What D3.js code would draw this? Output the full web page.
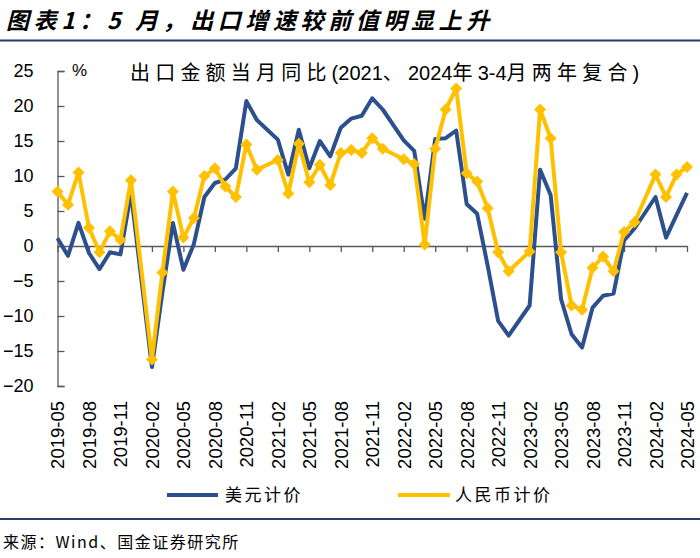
<!DOCTYPE html>
<html><head><meta charset="utf-8">
<script src="https://cdn.jsdelivr.net/npm/d3@7"></script>
<style>
html,body{margin:0;padding:0;background:#fff;}
svg{display:block;}
</style></head>
<body>
<svg id="c" width="700" height="558"></svg>
<script>
// ---- data ----
const months = ["2019-05","2019-06","2019-07","2019-08","2019-09","2019-10","2019-11","2019-12",
"2020-02","2020-03","2020-04","2020-05","2020-06","2020-07","2020-08","2020-09","2020-10","2020-11","2020-12",
"2021-02","2021-03","2021-04","2021-05","2021-06","2021-07","2021-08","2021-09","2021-10","2021-11","2021-12",
"2022-02","2022-03","2022-04","2022-05","2022-06","2022-07","2022-08","2022-09","2022-10","2022-11","2022-12",
"2023-02","2023-03","2023-04","2023-05","2023-06","2023-07","2023-08","2023-09","2023-10","2023-11","2023-12",
"2024-02","2024-03","2024-04","2024-05"];
const usd = [1.1,-1.4,3.3,-1.0,-3.3,-0.9,-1.2,7.6,
-17.3,-6.6,3.3,-3.4,0.3,7.0,9.0,9.5,11.1,20.7,18.0,
15.2,10.2,16.6,11.1,15.0,12.8,16.9,18.2,18.6,21.1,19.5,
15.1,13.6,3.9,15.3,15.4,16.5,6.0,4.6,-2.8,-10.7,-12.8,
-8.5,10.9,7.3,-7.6,-12.6,-14.5,-8.8,-7.1,-6.8,0.8,2.5,
7.0,1.2,4.4,7.6];
const cny = [7.8,5.9,10.5,2.6,-0.9,2.1,0.9,9.4,
-16.2,-3.8,7.8,1.2,4.0,10.0,11.1,8.5,7.0,14.5,10.9,
12.3,7.5,14.6,9.1,11.6,8.7,13.3,13.7,13.3,15.4,13.9,
12.4,11.7,0.2,13.9,19.5,22.5,10.4,9.2,5.4,-0.9,-3.6,
-0.8,19.5,15.4,-0.9,-8.5,-9.1,-3.1,-1.5,-3.6,2.0,3.4,
10.2,7.0,10.2,11.3];
const tickLabels = ["2019-05","2019-08","2019-11","2020-02","2020-05","2020-08","2020-11",
"2021-02","2021-05","2021-08","2021-11","2022-02","2022-05","2022-08","2022-11",
"2023-02","2023-05","2023-08","2023-11","2024-02","2024-05"];
const yTicks = [-20,-15,-10,-5,0,5,10,15,20,25];
const seriesNames = ["美元计价","人民币计价"];
const titleText = "图表1：5 月，出口增速较前值明显上升";
const subtitleParts = [["出口金额当月同比",1],["(2021",0],["、",1],["2024",0],["年",1],["3-4",0],["月两年复合",1],[")",0]];
const sourceText = "来源：Wind、国金证券研究所";

// ---- helpers ----
const mIndex = s => { const [y,m] = s.split("-").map(Number); return (y-2019)*12 + (m-5); };
const BLUE = "#2C4F8E", GOLD = "#FFC000", AXIS = "#595959";
const LAT = "'Liberation Sans', Arial, 'Noto Sans CJK SC', sans-serif";
const CJK = "'Noto Sans CJK SC', 'Liberation Sans', sans-serif";

const svg = d3.select("#c");
const x = d3.scaleLinear().domain([0,60]).range([57.5,687]);
const y = d3.scaleLinear().domain([-20,25]).range([386,71]);

// title
svg.append("text").attr("x",6).attr("y",29)
  .attr("font-family",CJK).attr("font-size",23).attr("font-weight","bold")
  .attr("font-style","italic").attr("letter-spacing",4.6).attr("fill","#000")
  .text(titleText);
svg.append("line").attr("x1",0).attr("x2",700).attr("y1",40.5).attr("y2",40.5)
  .attr("stroke","#1F3F6E").attr("stroke-width",2);
svg.append("line").attr("x1",0).attr("x2",700).attr("y1",519).attr("y2",519)
  .attr("stroke","#1F3F6E").attr("stroke-width",2);

// source
svg.append("text").attr("x",3).attr("y",548)
  .attr("font-family",CJK).attr("font-size",16).attr("letter-spacing",1.5).attr("fill","#000")
  .text(sourceText);

// y axis
const yAxis = d3.axisLeft(y).tickValues(yTicks).tickSize(-7).tickPadding(24).tickFormat(d3.format("d"));
const gy = svg.append("g").attr("transform",`translate(${x(0)},0)`).call(yAxis);
gy.select(".domain").attr("stroke",AXIS).attr("stroke-width",1.3);
gy.selectAll(".tick line").attr("stroke",AXIS).attr("stroke-width",1.3);
gy.selectAll(".tick text").attr("font-family",LAT).attr("font-size",18).attr("fill","#000");

// x axis at zero
const xAxis = d3.axisBottom(x).tickValues(tickLabels.map(mIndex)).tickSize(6).tickSizeOuter(0).tickFormat("");
const gx = svg.append("g").attr("transform",`translate(0,${y(0)})`).call(xAxis);
gx.select(".domain").attr("stroke",AXIS).attr("stroke-width",1.3);
gx.selectAll(".tick line").attr("stroke",AXIS).attr("stroke-width",1.3);

// x labels at bottom
const xLab = d3.axisBottom(x).tickValues(tickLabels.map(mIndex)).tickSize(0).tickFormat((d,i)=>tickLabels[i]);
const gl = svg.append("g").attr("transform",`translate(0,401)`).call(xLab);
gl.select(".domain").remove();
gl.selectAll(".tick text").attr("font-family",LAT).attr("font-size",18.5).attr("fill","#000")
  .attr("text-anchor","end").attr("transform","rotate(-90)").attr("x",0).attr("y",0).attr("dy","0.35em");

// % and subtitle
svg.append("text").attr("x",72).attr("y",76).attr("font-family",LAT).attr("font-size",17).text("%");
const st = svg.append("text").attr("x",130).attr("y",80).attr("font-size",20).attr("fill","#000");
subtitleParts.forEach(([t,c]) => {
  st.append("tspan").attr("font-family", c ? CJK : LAT).attr("letter-spacing", c ? 5.2 : 0).text(t);
});

// lines
const pts = months.map((m,i)=>({i:mIndex(m), u:usd[i], c:cny[i]}));
const lineU = d3.line().x(d=>x(d.i)).y(d=>y(d.u));
const lineC = d3.line().x(d=>x(d.i)).y(d=>y(d.c));
svg.append("path").datum(pts).attr("d",lineU).attr("fill","none").attr("stroke",BLUE)
  .attr("stroke-width",4).attr("stroke-linejoin","round");
svg.append("path").datum(pts).attr("d",lineC).attr("fill","none").attr("stroke",GOLD)
  .attr("stroke-width",4).attr("stroke-linejoin","round");

const diamond = { draw(ctx, size){ const r = Math.sqrt(size)/2*1.0; ctx.moveTo(0,-r); ctx.lineTo(r,0); ctx.lineTo(0,r); ctx.lineTo(-r,0); ctx.closePath(); } };
const sym = d3.symbol().type(diamond).size(144);
svg.append("g").selectAll("path").data(pts).join("path")
  .attr("d",sym).attr("transform",d=>`translate(${x(d.i)},${y(d.c)})`).attr("fill",GOLD);

// legend
const lg = svg.append("g");
lg.append("line").attr("x1",167).attr("x2",218).attr("y1",495).attr("y2",495).attr("stroke",BLUE).attr("stroke-width",4);
lg.append("text").attr("x",225).attr("y",501).attr("font-family",CJK).attr("font-size",17).attr("letter-spacing",2.5).text(seriesNames[0]);
lg.append("line").attr("x1",398).attr("x2",450).attr("y1",495).attr("y2",495).attr("stroke",GOLD).attr("stroke-width",4);
lg.append("path").attr("d",d3.symbol().type(diamond).size(25)).attr("transform","translate(424,495)").attr("fill",GOLD);
lg.append("text").attr("x",455).attr("y",501).attr("font-family",CJK).attr("font-size",17).attr("letter-spacing",2.5).text(seriesNames[1]);
</script>
</body></html>
